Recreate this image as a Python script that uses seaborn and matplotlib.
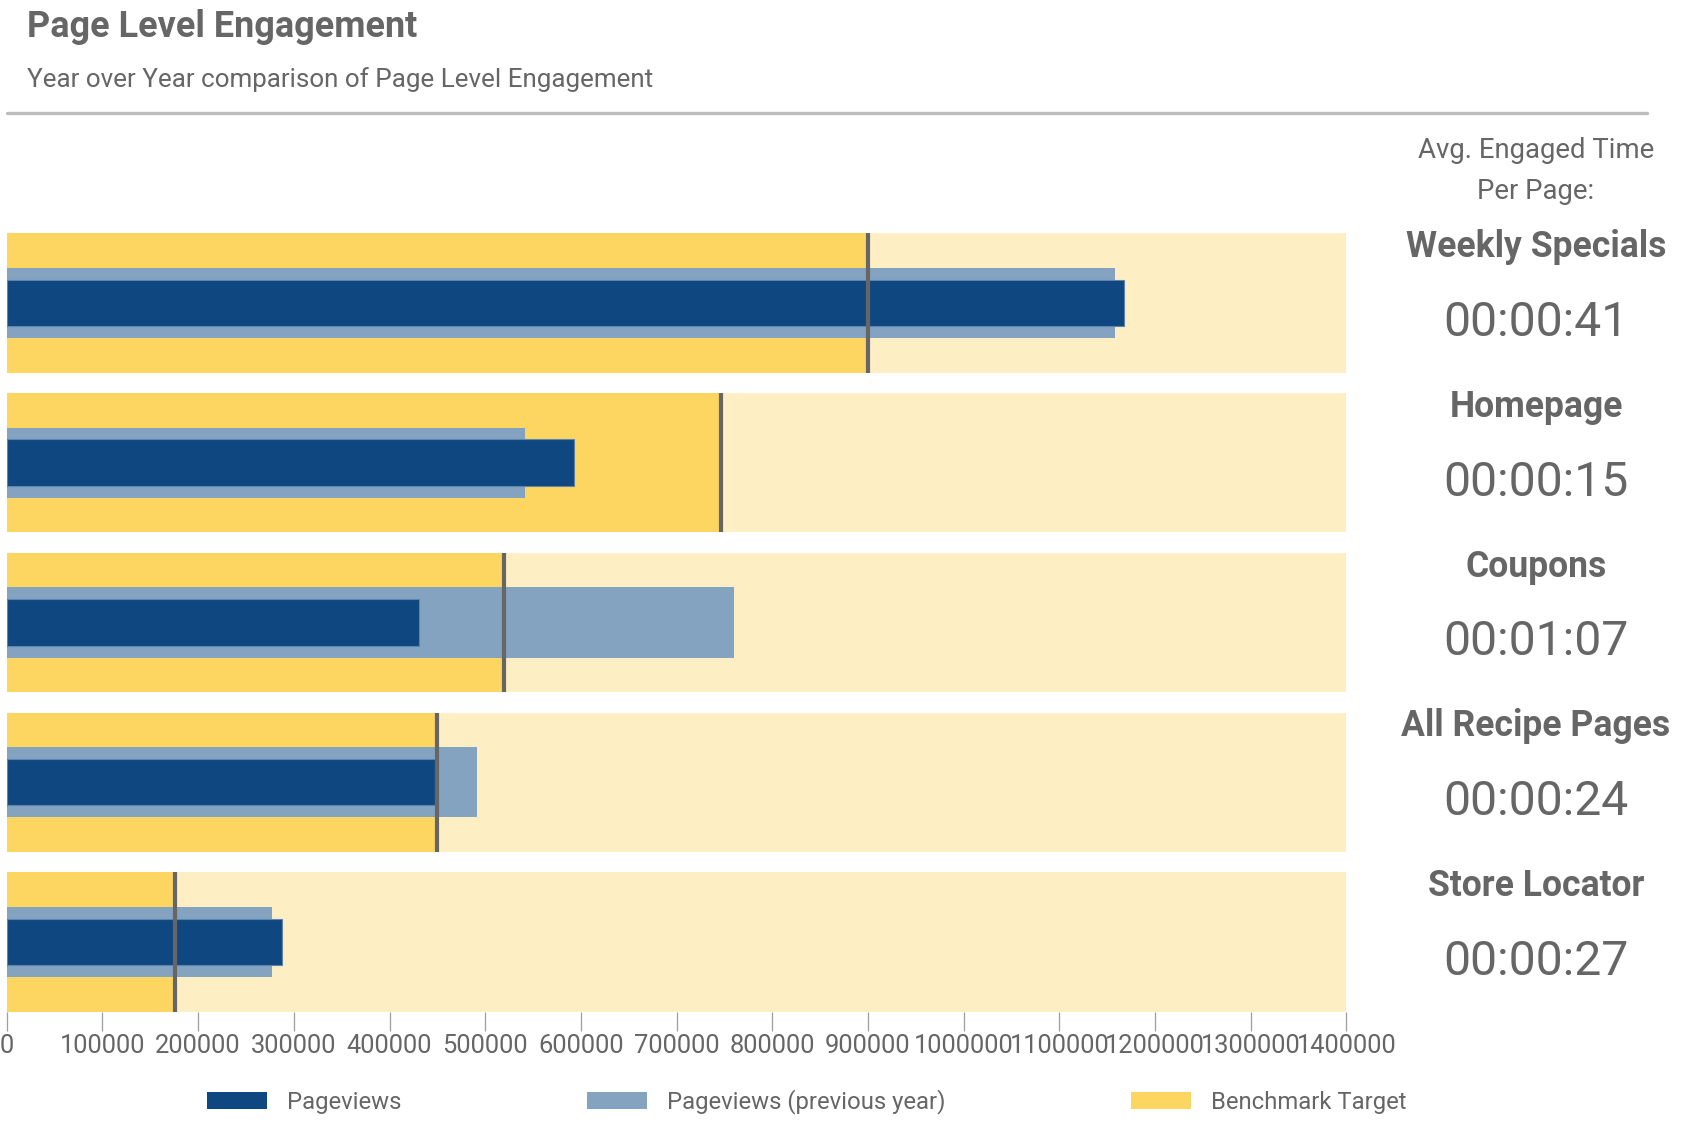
import matplotlib
matplotlib.use("Agg")
import matplotlib.pyplot as plt
from matplotlib.lines import Line2D
from matplotlib.patches import Patch
import matplotlib.transforms as mtransforms
import seaborn as sns
import pandas as pd

# ---------------- data ----------------
pages = ["Weekly Specials", "Homepage", "Coupons", "All Recipe Pages", "Store Locator"]
pageviews = [1168000, 593000, 431000, 448000, 288000]
pageviews_prev = [1158000, 542000, 760000, 491000, 277000]
benchmark = [900000, 746000, 520000, 450000, 176000]
range_max = [1400000, 1400000, 1400000, 1400000, 1400000]
engaged_time = ["00:00:41", "00:00:15", "00:01:07", "00:00:24", "00:00:27"]
x_ticks = [0, 100000, 200000, 300000, 400000, 500000, 600000, 700000,
           800000, 900000, 1000000, 1100000, 1200000, 1300000, 1400000]

df = pd.DataFrame({"page": pages, "pv": pageviews, "prev": pageviews_prev,
                   "bench": benchmark, "rng": range_max})

# ---------------- style ----------------
sns.set_theme(style="white")
plt.rcParams["font.family"] = ["Roboto", "DejaVu Sans"]
TXT = "#666666"
C_PV = "#0F4780"
C_PREV = "#84A3C1"
C_BENCH = "#FDD661"
C_RANGE = "#FDEEC4"
C_MARK = "#666666"

W, H = 1693, 1135
fig = plt.figure(figsize=(W / 100, H / 100), dpi=100)

x0, x1 = 6.8, 1346.4
y_top, y_bot = 233.2, 1011.7
ax = fig.add_axes([x0 / W, 1 - y_bot / H, (x1 - x0) / W, (y_bot - y_top) / H])

full_w = 0.872
sns.barplot(data=df, x="rng", y="page", orient="h", color=C_RANGE, width=full_w,
            saturation=1, ax=ax, linewidth=0)
sns.barplot(data=df, x="bench", y="page", orient="h", color=C_BENCH, width=full_w,
            saturation=1, ax=ax, linewidth=0)
sns.barplot(data=df, x="prev", y="page", orient="h", color=C_PREV, width=0.439,
            saturation=1, ax=ax, linewidth=0)
sns.barplot(data=df, x="pv", y="page", orient="h", color=C_PV, width=0.29,
            saturation=1, ax=ax, linewidth=0.8, edgecolor="#5F84AB")

half = full_w / 2
for i, b in enumerate(benchmark):
    ax.vlines(b, i - half, i + half, colors=C_MARK, linewidth=3, zorder=5)

ax.set_xlim(0, 1400000)
ax.set_ylim(len(pages) - 1 + half, -half)
ax.set_xlabel("")
ax.set_ylabel("")
ax.set_yticks([])
ax.set_xticks(x_ticks)
ax.set_xticklabels([str(t) for t in x_ticks], fontsize=18.4, color=TXT)
ax.tick_params(axis="x", bottom=True, length=13.7, width=0.9, color="#9E9E9E",
               pad=2, direction="out")
for s in ax.spines.values():
    s.set_visible(False)
ax.set_facecolor("none")

# ---------------- right-hand text ----------------
tr = mtransforms.blended_transform_factory(ax.transAxes, ax.transData)
xr = (1536 - x0) / (x1 - x0)
for i, (p, t) in enumerate(zip(pages, engaged_time)):
    ax.text(xr, i - 0.349, p, transform=tr, ha="center", va="center",
            fontsize=25.6, fontweight="bold", color=TXT, clip_on=False)
    ax.text(xr, i + 0.125, t, transform=tr, ha="center", va="center",
            fontsize=34.6, color=TXT, clip_on=False)

fig.text(1536 / W, 1 - 150 / H, "Avg. Engaged Time", ha="center", va="center",
         fontsize=19.8, color=TXT)
fig.text(1536 / W, 1 - 191 / H, "Per Page:", ha="center", va="center",
         fontsize=19.8, color=TXT)

# ---------------- header ----------------
fig.text(27 / W, 1 - 37 / H, "Page Level Engagement", ha="left", va="baseline",
         fontsize=25.9, fontweight="bold", color=TXT)
fig.text(27 / W, 1 - 87 / H, "Year over Year comparison of Page Level Engagement",
         ha="left", va="baseline", fontsize=18.7, color=TXT)
fig.add_artist(Line2D([6.5 / W, 1646.6 / W], [1 - 113.4 / H, 1 - 113.4 / H],
                      transform=fig.transFigure, color="#BDBDBD", linewidth=2.4))

# ---------------- legend ----------------
fs = 17.2
fs_px = fs * 100 / 72
handles = [Patch(facecolor=C_PV, edgecolor="none", label="Pageviews"),
           Patch(facecolor=C_PREV, edgecolor="none", label="Pageviews (previous year)"),
           Patch(facecolor=C_BENCH, edgecolor="none", label="Benchmark Target")]
leg = fig.legend(handles=handles, loc="center left", ncol=3,
                 bbox_to_anchor=(207 / W, 1 - 1102 / H), frameon=False,
                 fontsize=fs, handlelength=60 / fs_px, handleheight=17 / fs_px,
                 handletextpad=20 / fs_px, columnspacing=185.7 / fs_px,
                 borderpad=0, borderaxespad=0)
for t in leg.get_texts():
    t.set_color(TXT)

fig.savefig("out.png", dpi=100)
